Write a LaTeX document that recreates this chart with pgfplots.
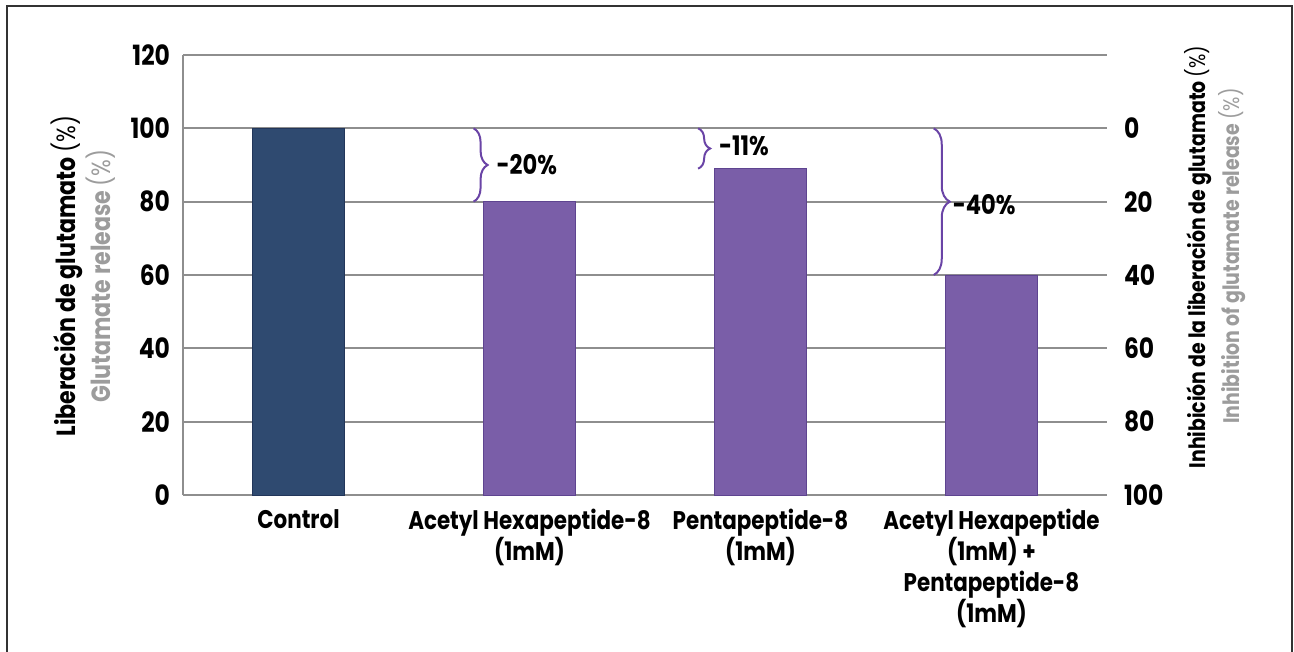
\documentclass[border=0pt]{standalone}
\usepackage{pgfplots}
\pgfplotsset{compat=1.18}
\usepackage{fontspec}
\setmainfont{Poppins}[FakeStretch=0.84]
\usetikzlibrary{decorations.pathreplacing}
\definecolor{navybar}{HTML}{2F4A70}
\definecolor{navyedge}{HTML}{22365A}
\definecolor{purplebar}{HTML}{7A5EA8}
\definecolor{purpleedge}{HTML}{5E4490}
\definecolor{bracecol}{HTML}{6A44A6}
\definecolor{gridgray}{HTML}{8E8E8E}
\definecolor{labgray}{HTML}{9C9C9C}
\definecolor{framecol}{HTML}{333333}
\begin{document}
\begin{tikzpicture}
\useasboundingbox (0,0) rectangle (647bp,326bp);
\draw[framecol, line width=1bp] (3.5bp,0) -- (3.5bp,323bp) -- (646bp,323bp) -- (646bp,0);
\begin{axis}[
  at={(91.5bp,78.5bp)}, anchor=south west,
  scale only axis, width=462bp, height=220bp,
  xmin=-0.5, xmax=3.5, ymin=0, ymax=120,
  ytick={0,20,...,120},
  xtick={0,1,2,3},
  xticklabels={Control, {Acetyl Hexapeptide-8\\(1mM)}, {Pentapeptide-8\\(1mM)}, {Acetyl Hexapeptide\\(1mM) +\\Pentapeptide-8\\(1mM)}},
  xticklabel style={align=center, font=\fontsize{12.8}{15.5}\selectfont\bfseries, text=black, inner sep=0pt, yshift=-7bp},
  yticklabel style={font=\fontsize{14}{16}\selectfont\bfseries, text=black, xshift=-3bp},
  /pgf/number format/assume math mode=true,
  major tick length=0pt,
  axis line style={gridgray, line width=1bp},
  axis x line*=bottom, axis y line*=left,
  ymajorgrids, grid style={gridgray, line width=1bp},
  ybar, bar width=0.4, bar shift=0pt,
  clip=false,
]
\addplot[fill=navybar, draw=navyedge] coordinates {(0,100)};
\addplot[fill=purplebar, draw=purpleedge] coordinates {(1,80) (2,89) (3,60)};
\draw[bracecol, line width=1bp, decorate, decoration={brace, amplitude=7bp}] (axis cs:0.758,100) -- (axis cs:0.758,80)
  node[midway, right=10bp, text=black, font=\fontsize{13.5}{15}\selectfont\bfseries, inner sep=1pt] {-20\%};
\draw[bracecol, line width=1bp, decorate, decoration={brace, amplitude=6bp}] (axis cs:1.73,100) -- (axis cs:1.73,89)
  node[midway, right=9bp, yshift=1.5bp, text=black, font=\fontsize{13.5}{15}\selectfont\bfseries, inner sep=1pt] {-11\%};
\draw[bracecol, line width=1bp, decorate, decoration={brace, amplitude=8bp}] (axis cs:2.75,100) -- (axis cs:2.75,60)
  node[midway, right=9bp, yshift=-1.5bp, text=black, font=\fontsize{13.5}{15}\selectfont\bfseries, inner sep=0pt] {-40\%};
\end{axis}
\begin{axis}[
  at={(91.5bp,78.5bp)}, anchor=south west,
  scale only axis, width=462bp, height=220bp,
  xmin=-0.5, xmax=3.5, ymin=-20, ymax=100, y dir=reverse,
  ytick={0,20,...,100},
  axis y line*=right, hide x axis,
  y axis line style={draw=none},
  major tick length=0pt,
  yticklabel style={font=\fontsize{14}{16}\selectfont\bfseries, text=black, anchor=west, xshift=5bp},
  /pgf/number format/assume math mode=true,
]
\addplot[draw=none] coordinates {(0,0)};
\end{axis}
\node[rotate=90, font=\fontsize{13.2}{15}\selectfont\bfseries] at (33.5bp,188bp) {Liberación de glutamato {\mdseries(\%)}};
\node[rotate=90, font=\fontsize{13.2}{15}\selectfont\bfseries, text=labgray] at (50.5bp,188bp) {Glutamate release {\mdseries(\%)}};
\node[rotate=90, font=\fontsize{11.3}{13}\selectfont\bfseries] at (599bp,197.5bp) {Inhibición de la liberación de glutamato {\mdseries(\%)}};
\node[rotate=90, font=\fontsize{11.3}{13}\selectfont\bfseries, text=labgray] at (616bp,198bp) {Inhibition of glutamate release {\mdseries(\%)}};
\end{tikzpicture}
\end{document}
